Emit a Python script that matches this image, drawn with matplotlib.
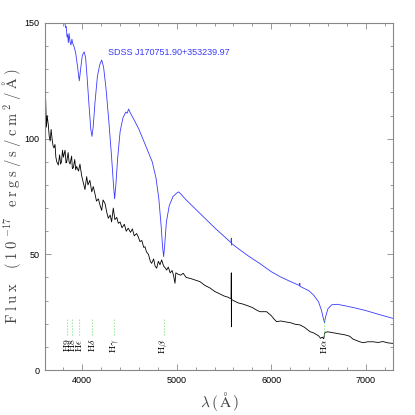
import matplotlib
matplotlib.use("Agg")
import matplotlib.pyplot as plt
from matplotlib.ticker import MultipleLocator

plt.rcParams["font.family"] = "Liberation Sans"
plt.rcParams["mathtext.fontset"] = "cm"

# blue spectrum (upper)
wave_blue = [3600, 3700, 3780, 3800, 3815, 3822, 3830, 3838, 3845, 3852, 3860, 3870,
             3880, 3890, 3900, 3915, 3930, 3950,
             3968, 3985, 4000, 4020, 4035, 4050, 4070, 4090, 4102, 4115, 4135, 4160,
             4185, 4205, 4225, 4250, 4280, 4310, 4330, 4342, 4355, 4375, 4400, 4430,
             4460, 4475, 4490, 4510, 4550, 4600, 4650, 4700, 4740, 4780, 4810, 4835, 4850,
             4861, 4872, 4890, 4920, 4960, 5000, 5020, 5040, 5100, 5200, 5300, 5400, 5500,
             5575, 5577, 5579, 5582, 5650, 5750, 5880, 6000, 6100, 6200, 6300, 6302,
             6304, 6400, 6450, 6500, 6530, 6550, 6563, 6575, 6600, 6640, 6700, 6800,
             6900, 7000, 7100, 7200, 7300]
flux_blue = [185, 170, 158, 152, 150.5, 148, 148.5, 144, 145, 141.5, 145.5, 142,
             140.5, 143, 141, 139.5, 137, 131,
             125, 131, 136, 137.5, 135, 127, 115, 104, 101, 105, 116, 127,
             132, 134, 131, 122, 108, 92, 80, 74, 80, 92, 103, 109,
             111.5, 111, 112.8, 111, 108, 104, 99, 94, 90, 83, 74, 62, 53,
             49, 54, 64, 71, 75, 76.5, 77, 76.2, 73.5, 69.5, 65.5, 61.5, 57.8,
             55.0, 57.0, 54.0, 54.6, 52.5, 49.5, 46, 42.5, 40.2, 38.3, 36.5, 37.5,
             36.2, 34.2, 32.3, 29.5, 26, 22.5, 20.5, 23, 26.5, 28.2, 28.4, 27.6,
             26.7, 25.7, 24.5, 23.3, 22.2]

# black spectrum (lower)
wave_black = [3605, 3612, 3620, 3628, 3640, 3650, 3660, 3670, 3680, 3690, 3700, 3711,
              3720, 3730, 3746, 3760, 3770, 3780, 3790, 3800, 3817, 3828, 3835, 3850,
              3860, 3870, 3887, 3895, 3905, 3920, 3930, 3940, 3960, 3975, 3993, 4010,
              4028, 4046, 4060, 4080, 4100, 4116, 4135, 4150, 4170, 4187, 4205, 4220,
              4240, 4260, 4275, 4295, 4310, 4328, 4345, 4365, 4381, 4400, 4420, 4445,
              4465, 4486, 4510, 4530, 4550, 4575, 4592, 4610, 4630, 4650, 4663, 4680,
              4700, 4720, 4734, 4755, 4770, 4787, 4805, 4822, 4840, 4860, 4880, 4893,
              4910, 4930, 4950, 4965, 4981, 4990, 5010, 5040, 5068, 5100, 5150, 5200,
              5245, 5300, 5350, 5400, 5450, 5500, 5540, 5562, 5575, 5577, 5578, 5580,
              5600, 5650, 5700, 5750, 5800, 5840, 5880, 5951, 6000, 6030, 6056, 6100,
              6150, 6200, 6250, 6303, 6350, 6409, 6450, 6500, 6522, 6540, 6555, 6568,
              6600, 6656, 6720, 6780, 6830, 6867, 6900, 6938, 6973, 7020, 7079, 7130,
              7180, 7240, 7290]
flux_black = [112, 117, 105, 110, 106, 101, 99, 104, 100, 97, 96, 97.5,
              92, 90, 88.6, 93, 89, 90, 95, 92, 95, 89.5, 90, 94,
              90, 89, 92.5, 87, 87.5, 91, 86.5, 88, 86, 89, 84, 81,
              78, 83.6, 80, 82, 77, 79.3, 76, 73, 74, 71.3, 69, 73.5,
              72, 68, 65.6, 67, 64, 70, 65, 66, 63.4, 64, 61.5, 63,
              60, 61.3, 59.5, 61, 58, 59, 57.6, 55.5, 56, 53, 53.3, 51,
              50, 47, 46.1, 48, 45, 44, 47, 45.5, 47.6, 45, 44, 43.2,
              44.5, 42, 43, 41, 37.5, 42, 41.5, 41, 41.8, 40, 39.5, 38.8,
              38.2, 36.5, 35.5, 34, 33, 32, 31.5, 31, 31, 42, 18.7, 30.5,
              30, 29, 28.5, 27.8, 27, 26, 25.2, 25.2, 23.5, 22, 20.9, 21.2,
              20.8, 20.5, 19.8, 19.5, 18.5, 16.6, 16, 14.8, 13.7, 14.2, 13.5, 16.3,
              16.5, 16.1, 15.6, 15.2, 14.6, 13.3, 12.8, 12.2, 11.8, 12.2, 12.2, 11.9,
              12.3, 11.7, 11.5]

# Balmer line markers
line_waves = [3835, 3889, 3970, 4102, 4340, 4861, 6563]
line_names = [r"$\mathrm{H}9$", r"$\mathrm{H}8$", r"$\mathrm{H}\epsilon$",
              r"$\mathrm{H}\delta$", r"$\mathrm{H}\gamma$", r"$\mathrm{H}\beta$",
              r"$\mathrm{H}\alpha$"]

# axis label pieces, spread out like the original
ylabel_parts = ["F", "l", "u", "x", r"\ \ ", "(", "1", "0", "^{-17}", r"\ ",
                "e", "r", "g", "s", "/", "s", "/", "c", "m", "^{2}", "/", r"\AA", ")"]
xlabel_parts = [r"\lambda", "(", r"\AA", ")"]

fig = plt.figure(figsize=(4.15, 4.15), dpi=100)
ax = fig.add_axes([0.1084, 0.1084, 0.8394, 0.8362])

ax.plot(wave_blue, flux_blue, color="#3a3aff", linewidth=0.6)
ax.plot(wave_black, flux_black, color="black", linewidth=0.6)

for w, name in zip(line_waves, line_names):
    ax.plot([w, w], [15, 22], color="#7fe07f", linestyle=":", linewidth=0.8)
    ax.text(w, 13.5, name, rotation=90, ha="center", va="top", fontsize=7)

ax.text(4272, 136, "SDSS J170751.90+353239.97", color="#3a3aff", fontsize=6.5)

ax.set_xlim(3605, 7292)
ax.set_ylim(0, 150)
ax.xaxis.set_major_locator(MultipleLocator(1000))
ax.xaxis.set_minor_locator(MultipleLocator(200))
ax.yaxis.set_major_locator(MultipleLocator(50))
ax.yaxis.set_minor_locator(MultipleLocator(10))
ax.tick_params(which="both", direction="in", top=True, right=True,
               color="#888888", width=0.6, labelsize=6.5, pad=4)
ax.tick_params(which="major", length=4.3)
ax.tick_params(which="minor", length=2.2)
for sp in ax.spines.values():
    sp.set_color("#888888")
    sp.set_linewidth(0.8)

ax.set_xlabel("$\\mathrm{" + "\\,".join(xlabel_parts) + "}$",
              fontsize=11, labelpad=4, color="#444444")
ax.set_ylabel("$\\mathrm{" + "\\;".join(ylabel_parts) + "}$",
              fontsize=10.5, labelpad=1, color="#444444")

fig.savefig("out.png", dpi=100)
